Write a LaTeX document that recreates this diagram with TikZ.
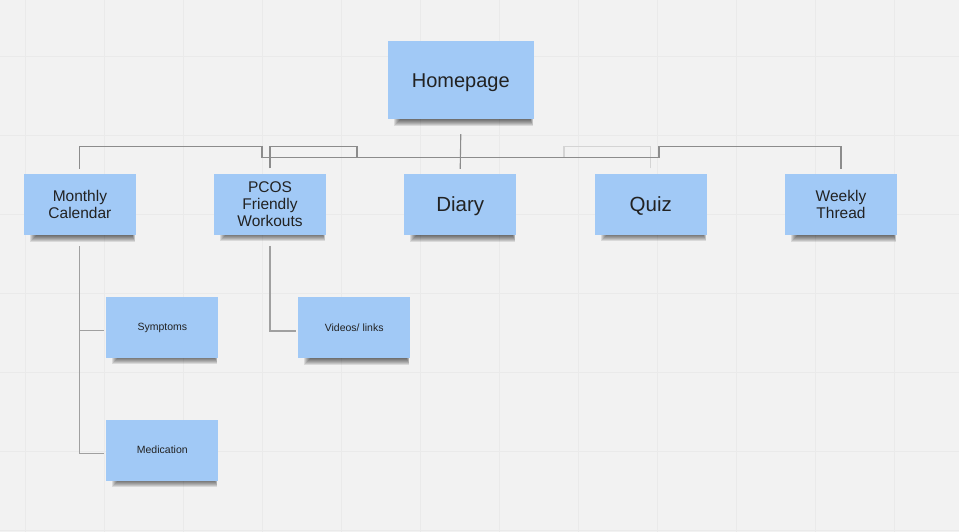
\documentclass[tikz,border=0pt]{standalone}
\usepackage{fontspec}
\setmainfont{Liberation Sans}
\definecolor{bgc}{RGB}{242,242,242}
\definecolor{gridc}{RGB}{234,234,234}
\definecolor{notec}{RGB}{161,201,246}
\definecolor{txtc}{RGB}{34,34,34}
\definecolor{linec}{RGB}{140,140,140}
\definecolor{linelow}{RGB}{160,160,160}
\definecolor{linefaint}{RGB}{212,212,212}
\pgfdeclarelayer{background}
\pgfdeclarelayer{shade}
\pgfsetlayers{background,shade,main}
\tikzset{
  note/.style={fill=notec, draw=none, text=txtc, align=center, inner sep=0pt,
    minimum width=112pt, minimum height=61pt},
  bignote/.style={note, minimum width=146pt, minimum height=78pt, text depth=0pt, font=\fontsize{20}{24}\selectfont},
  midnote/.style={note, font=\fontsize{15.5}{17.3}\selectfont},
  lgnote/.style={note, text depth=0pt, font=\fontsize{20.5}{24}\selectfont},
  smnote/.style={note, text depth=0pt, font=\fontsize{10.5}{12}\selectfont},
  conn/.style={draw=linec, line width=1.1pt},
  connlow/.style={draw=linelow, line width=1.1pt},
  connfaint/.style={draw=linefaint, line width=1.1pt},
  shadepart/.style={fill=black, opacity=0.1},
}
\newcommand\noteshade[1]{%
  \foreach \k in {0,1,2,3,4,5,6}{%
    \fill[shadepart] ([xshift={12pt-\k pt}, yshift=4pt]#1.south west)
      rectangle ([xshift={-3.5pt+0.4*\k pt}, yshift={-0.5pt-\k pt}]#1.south east);
  }%
}
\begin{document}
\begin{tikzpicture}[x=1pt,y=-1pt]
\useasboundingbox (0,0) rectangle (959,532);
\begin{pgfonlayer}{background}
\fill[bgc] (-4,-4) rectangle (963,536);
\foreach \gx in {25.5,104.5,183.5,262.5,341.5,420.5,499.5,578.5,657.5,736.5,815.5,894.5}
  \draw[gridc, line width=1.2pt] (\gx,-4) -- (\gx,536);
\foreach \gy in {56.5,135.5,214.5,293.5,372.5,451.5,530.5}
  \draw[gridc, line width=1.2pt] (-4,\gy) -- (963,\gy);
\end{pgfonlayer}

\coordinate (hub) at (460,157.3);

\node[bignote] (home) at (460.8,80.5) {Homepage};
\node[midnote] (cal) at (79.9,204.7) {Monthly\\Calendar};
\node[midnote] (pcos) at (270,204.2) {PCOS\\Friendly\\Workouts};
\node[lgnote] (diary) at (460.2,204.5) {Diary};
\node[lgnote] (quiz) at (650.8,204.2) {Quiz};
\node[midnote] (weekly) at (841,204.5) {Weekly\\Thread};
\node[smnote] (sym) at (162.3,327) {Symptoms};
\node[smnote] (med) at (162.3,450) {Medication};
\node[smnote] (vid) at (354.2,327.6) {Videos/ links};

\begin{pgfonlayer}{shade}
\noteshade{home}\noteshade{cal}\noteshade{pcos}\noteshade{diary}\noteshade{quiz}
\noteshade{weekly}\noteshade{sym}\noteshade{med}\noteshade{vid}
\end{pgfonlayer}

\draw[connfaint] ([yshift=5pt]quiz.north) |- (564,146.7) |- (hub);
\draw[conn] ([yshift=5pt]cal.north) |- (262,146.7) |- (hub);
\draw[conn] ([yshift=5pt]pcos.north) |- (357,146.7) |- (hub);
\draw[conn] ([yshift=5pt]weekly.north) |- (659,146.7) |- (hub);
\draw[conn] ([yshift=-14.5pt]home.south) -- ([yshift=5pt]diary.north);

\draw[connlow] ([yshift=-11pt]cal.south) |- ([shift={(-2pt,-3.7pt)}]sym.west);
\draw[connlow] ([yshift=-11pt]cal.south) |- ([shift={(-2pt,-3.5pt)}]med.west);
\draw[connlow] ([yshift=-11pt]pcos.south) |- ([shift={(-2pt,-3.4pt)}]vid.west);
\end{tikzpicture}
\end{document}
